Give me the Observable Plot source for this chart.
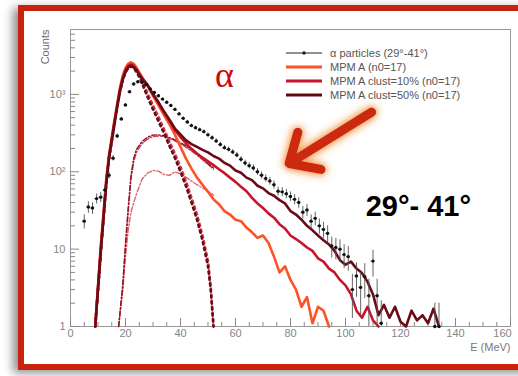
<!DOCTYPE html>
<html><head><meta charset="utf-8">
<script src="https://cdn.jsdelivr.net/npm/d3@7"></script>
<script src="https://cdn.jsdelivr.net/npm/@observablehq/plot@0.6"></script>
<style>
body{margin:0;background:#fff;}
#wrap{position:relative;width:518px;height:376px;overflow:hidden;background:#fff;font-family:"Liberation Sans",Arial,sans-serif;}
#frame{position:absolute;left:18px;top:5px;width:540px;height:353px;border:6px solid #c9230e;box-shadow:-5px 3px 9px rgba(0,0,0,0.45);background:#fff;}
#chart{position:absolute;left:0;top:0;}
#legend{position:absolute;left:286px;top:46px;font-size:11px;color:#555;line-height:14px;}
#legend .row{display:flex;align-items:center;height:14px;}
#legend svg{margin-right:8px;}
[aria-label="arrow"]{filter:drop-shadow(0 0 3px #f3a060) drop-shadow(0 0 4px #f5b070);}
</style></head>
<body>
<div id="wrap"><div id="frame"></div><div id="chart"></div><div id="legend"></div></div>
<script>
// alpha particles data (29°-41°)
const alphaE = [5,6.5,8,9.5,11,12.5,14,15.5,17,18.5,20,21.5,23,24.5,26,27.5,29,30.5,32,33.5,35,36.5,38,39.5,41,42.5,44,45.5,47,48.5,50,51.5,53,54.5,56,57.5,59,60.5,62,63.5,65,66.5,68,69.5,71,72.5,74,75.5,77,78.5,80,81.5,83,84.5,86,87.5,89,90.5,92,93.5,95,96.5,98,99.5,101,102.5,104,105.5,107,108.5,110,111.5,113,132.5,134];
const alphaCounts = [23,35,34,45,47,58,90,150,290,480,730,1080,1360,1460,1430,1340,1180,1060,960,870,790,720,640,560,490,440,395,370,350,330,300,275,250,225,205,195,180,165,145,130,120,112,100,90,82,76,68,56,55,52,48,44,40,30,32,23,25,20,18,16,11,10.5,10,8.5,8,3,4.5,3.2,4.4,2.5,7,2.5,1.1,1,1];

// MPM simulations
const mpmE = [9,10,11,12,13,14,15,16,17,18,19,20,21,22,23,24,25,26,28,30,32,34,36,38,40,42,44,46,48,50,52,54,56,58,60,62,64,66,68,70,72,74,76,78,80,82,84,86,88,90,92,94,96,98,100,102,104,106,108,110,112,114,116,118,120,122,124,126,128,130,132,134];
const mpmA = [1,3.4,11,29,80,165,280,470,770,1230,1750,2200,2500,2600,2480,2220,1920,1680,1300,960,720,540,410,300,210,148,110,84,68,55,44,38,31,28,24,23,19,16.5,14,15,12,8,5,6,4,3,1.8,2.4,1.1,1.8,1.6,1];
const mpmClust10 = [1,3.2,10,27,75,155,260,440,720,1150,1620,2050,2350,2450,2330,2100,1830,1620,1320,1000,780,590,455,345,280,232,198,172,152,136,122,108,96,84,74,64,56,46,39,34,29,25.5,21,18.5,15,13.5,12,10.5,9.5,7.6,6.9,5.6,5,4,3.4,2.6,1.6,1.3,1.8,1.2,1];
const mpmClust50 = [1,3,9,25,70,150,250,420,690,1100,1550,1950,2250,2350,2250,2050,1800,1600,1330,1010,790,600,470,360,305,255,228,210,192,178,160,148,130,120,104,97,84,78,66,61,53,49,43,39,31,28,24,20,17.5,15,13,11.5,9.5,7.2,6.3,6.9,5.6,4.9,3.8,2.6,1.4,1.9,1.3,1.8,1.15,1,1.6,1.2,1.4,1.1,1.7,1];

// components (dotted: fast component, dash-dot: cluster humps)
const compE = [9,10,11,12,13,14,15,16,17,18,19,20,21,22,23,24,25,26,28,30,32,34,36,38,40,42,44,46,48,50,51,52];
const compDark = [1,3,9,25,70,150,250,420,690,1100,1550,1950,2200,2300,2200,1950,1680,1400,930,640,450,315,215,150,100,65,40,24,13,6,3,1];
const compRed = [1,3,9,25,70,150,250,420,690,1100,1550,1950,2200,2300,2260,2050,1790,1520,1030,720,510,355,245,170,115,75,46,28,15,7,3.2,1];
const humpE = [17.5,19,20,21,22,23,24,26,28,30,32,34,36,38,40,42,44,46,48,50,52];
const humpA1 = [1,3.5,12,35,90,150,195,245,280,298,300,292,276,258,238,216,192,170,148,128,112];
const humpA2 = [1,3,10,30,80,135,180,230,265,285,290,285,270,250,230,208,185,164,143,124,108];
const humpB = [1,3,8,18,30,40,52,80,96,104,102,92,90,100,94,85,76,68,62,56,50];

// axis ticks
const xMajor = [0,20,40,60,80,100,120,140,160];
const xMinor = [5,10,15,25,30,35,45,50,55,65,70,75,85,90,95,105,110,115,125,130,135,145,150,155];
const yMajor = [1,10,100,1000];
const yMinor = [2,3,4,5,6,7,8,9,20,30,40,50,60,70,80,90,200,300,400,500,600,700,800,900,2000,3000,4000,5000,6000];
const yLabels = {1:"1",10:"10",100:"10²",1000:"10³"};

// annotations (data coordinates)
const alphaLabel = [{E:56, c:1750, t:"α"}];
const angleLabel = [{E:126.5, c:35, t:"29°- 41°"}];
const arrowAnno = [{E1:109.5, c1:590, E2:79.5, c2:128}];

const legendItems = [
  {label:"α particles (29°-41°)", color:"#222", w:1, dot:true},
  {label:"MPM A (n0=17)", color:"#ff5224", w:3},
  {label:"MPM A clust=10% (n0=17)", color:"#c8142c", w:3},
  {label:"MPM A clust=50% (n0=17)", color:"#5e0a12", w:3}
];

const toRows = (E, C) => C.map((c, i) => ({E: E[i], c}));
const alpha = toRows(alphaE, alphaCounts).filter(d => d.c > 0);
const cDark = "#6a0c16", cRed = "#c8142c", cOrange = "#ff5224";

const plot = Plot.plot({
  width: 518, height: 376,
  marginLeft: 70, marginRight: 8, marginTop: 29, marginBottom: 50,
  style: {background: "transparent", fontFamily: "Liberation Sans, Arial, sans-serif", fontSize: "11px", color: "#808080"},
  x: {domain: [0, 160]},
  y: {type: "log", domain: [1, 6900]},
  marks: [
    Plot.frame({stroke: "#9a9a9a"}),
    Plot.axisX({ticks: xMajor.slice(0, -1), tickSize: 0, tickPadding: 3, label: null, fill: "#858585"}),
    Plot.axisX({ticks: xMajor.slice(-1), tickSize: 0, tickPadding: 3, dx: -8, label: null, fill: "#858585"}),
    Plot.axisX({ticks: xMajor, tickSize: -8, tickFormat: () => "", label: null, stroke: "#888"}),
    Plot.axisX({ticks: xMinor, tickSize: -4, tickFormat: () => "", label: null, stroke: "#888"}),
    Plot.axisY({ticks: yMajor, tickSize: 0, tickPadding: 5, tickFormat: d => yLabels[d], label: null, fill: "#858585"}),
    Plot.axisY({ticks: yMajor, tickSize: -9, tickFormat: () => "", label: null, stroke: "#888"}),
    Plot.axisY({ticks: yMinor, tickSize: -5, tickFormat: () => "", label: null, stroke: "#888"}),
    Plot.text(["Counts"], {frameAnchor: "top-left", dx: -29, dy: 0, rotate: -90, textAnchor: "end", fill: "#6a6a6a", fontSize: 11}),
    Plot.text(["E (MeV)"], {frameAnchor: "bottom-right", dy: 24, textAnchor: "end", fill: "#777", fontSize: 11}),
    // cluster humps (dash-dot)
    Plot.line(toRows(humpE, humpB), {x: "E", y: "c", stroke: "#e4606e", strokeWidth: 1.4, strokeDasharray: "5,2,1.5,2"}),
    Plot.line(toRows(humpE, humpA2), {x: "E", y: "c", stroke: "#d83a4c", strokeWidth: 1.4, strokeDasharray: "5,2,1.5,2"}),
    Plot.line(toRows(humpE, humpA1), {x: "E", y: "c", stroke: "#8a1424", strokeWidth: 1.4, strokeDasharray: "5,2,1.5,2"}),
    // fast components (dotted)
    Plot.line(toRows(compE, compRed), {x: "E", y: "c", stroke: "#d03444", strokeWidth: 2.6, strokeDasharray: "2.2,3.8"}),
    Plot.line(toRows(compE, compDark), {x: "E", y: "c", stroke: "#6a0c16", strokeWidth: 2.6, strokeDasharray: "2.2,3.8"}),
    // full simulations
    Plot.line(toRows(mpmE, mpmA), {x: "E", y: "c", stroke: cOrange, strokeWidth: 2.6}),
    Plot.line(toRows(mpmE, mpmClust10), {x: "E", y: "c", stroke: cRed, strokeWidth: 2.6}),
    Plot.line(toRows(mpmE, mpmClust50), {x: "E", y: "c", stroke: cDark, strokeWidth: 2.6}),
    // data
    Plot.ruleX(alpha, {x: "E", y1: d => Math.max(1, d.c - Math.sqrt(d.c)), y2: d => d.c + Math.sqrt(d.c), stroke: "#555", strokeWidth: 0.9}),
    Plot.ruleY(alpha, {y: "c", x1: d => d.E - 0.6, x2: d => d.E + 0.6, stroke: "#333", strokeWidth: 0.9}),
    Plot.dot(alpha, {x: "E", y: "c", r: 1.7, fill: "#111"}),
    // annotations
    Plot.arrow(arrowAnno, {x1: "E1", y1: "c1", x2: "E2", y2: "c2", stroke: "#cc2a10", strokeWidth: 9, headLength: 22, headAngle: 85}),
    Plot.text(alphaLabel, {x: "E", y: "c", text: "t", fill: "#cc0a0a", fontSize: 36, fontFamily: "Liberation Serif, serif"}),
    Plot.text(angleLabel, {x: "E", y: "c", text: "t", fill: "#000", fontSize: 29, fontWeight: "bold", fontFamily: "Liberation Sans, Arial, sans-serif"})
  ]
});
document.getElementById("chart").appendChild(plot);

const leg = document.getElementById("legend");
for (const it of legendItems) {
  const row = document.createElement("div");
  row.className = "row";
  row.innerHTML = `<svg width="36" height="14"><line x1="0" y1="7" x2="36" y2="7" stroke="${it.color}" stroke-width="${it.w}"/>${it.dot ? `<circle cx="18" cy="7" r="1.8" fill="${it.color}"/>` : ""}</svg><span>${it.label}</span>`;
  leg.appendChild(row);
}
</script>
</body></html>
